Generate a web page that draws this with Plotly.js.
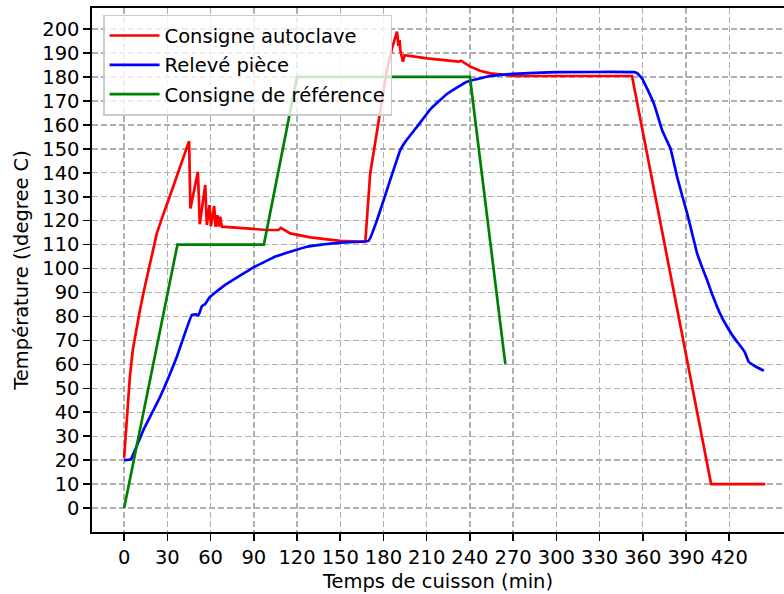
<!DOCTYPE html>
<html>
<head>
<meta charset="utf-8">
<script src="https://cdn.plot.ly/plotly-3.0.1.min.js"></script>
<style>html,body{margin:0;padding:0;background:#fff;}#chart{width:784px;height:594px;}</style>
</head>
<body>
<div id="chart"></div>
<script>
// Consigne autoclave
var autoclaveT = [0,1,2.3,4,6,8.5,11,14,16.9,19.8,22.7,26.8,30.8,45.1,46,51.2,52.5,56.3,57.4,59.3,60.2,62.5,63.4,64.8,65.6,66.7,67.8,80,99,107.2,108.8,115.3,129.2,150,167.4,170.8,173.1,177.3,182.4,186,189.4,190.4,191.2,191.7,193.5,194.7,210.2,232.2,233.8,240.3,247,254.2,262,270,300,352.5,407.4,445];
var autoclaveY = [21,30,41,55,66,75,82.7,91.5,99.4,107.5,114.7,122,128.6,153.2,125.1,140.4,118.5,134.9,118.2,126.5,117.7,126.1,117.5,122.3,117.5,121.6,117.5,117,116.1,116.1,117,114.7,113,111.6,111.2,139.7,148.1,164.8,182.9,192,198.9,193,195.4,191.2,186.4,189.1,187.8,186.4,186.8,184.3,182.6,181.5,181,180.5,180.4,180.4,10,10];
// Relevé pièce
var pieceT = [0,4.6,7.6,13.4,25,36.6,47,50,51.5,54,56.3,59.3,69,89.8,105.9,126.9,152.3,169.7,175.5,184.7,191.7,195.1,203.3,212.5,224.1,237.9,254.2,270,300,354,356,359.5,363.5,367.6,370.5,373.4,377,379.2,383.8,387.3,390.8,394.3,397.7,401.2,404.6,408,411.6,415,418.5,422,425.5,430.6,433.5,438,444];
var pieceY = [20,20.3,24.2,32.6,46.5,63.2,80.6,80.9,80.3,84.3,85.2,88,92.7,100.5,105.2,109.1,110.9,111.6,120.2,137,149.5,152.9,159.2,166.5,172.9,178,180.4,181.3,182,182,181.6,179.4,174.5,169,163.5,157.8,153,150.2,138.3,130.5,123,114.5,106.3,100.5,95.2,89.5,84,79.5,75.7,72.3,69.4,65.3,61.1,59.2,57.3];
// Consigne de référence
var refT = [0,37,97,120,240,264.6];
var refY = [0,110,110,180,180,60];

var xTicks = [0,30,60,90,120,150,180,210,240,270,300,330,360,390,420];
var yTicks = [0,10,20,30,40,50,60,70,80,90,100,110,120,130,140,150,160,170,180,190,200];

var lw = 2.7;
var traces = [
  {x: autoclaveT, y: autoclaveY, mode: 'lines', name: 'Consigne autoclave', legendgroup: 'a', line: {color: '#ff0000', width: lw}},
  {x: pieceT, y: pieceY, mode: 'lines', name: 'Relevé pièce', legendgroup: 'b', line: {color: '#0000ff', width: lw, shape: 'spline', smoothing: 0.3}},
  {x: refT, y: refY, mode: 'lines', name: 'Consigne de référence', legendgroup: 'c', line: {color: '#008000', width: lw}}
];

var font = {family: 'DejaVu Sans', size: 19.5, color: '#000'};
var gridStyle = {showgrid: true, gridcolor: '#b0b0b0', griddash: '6px,3px', gridwidth: 1.4};
var layout = {
  width: 784, height: 594,
  margin: {l: 92, r: 0, t: 8, b: 62},
  paper_bgcolor: '#fff', plot_bgcolor: '#fff',
  font: font,
  showlegend: true,
  legend: {x: 0.016, y: 0.987, xanchor: 'left', yanchor: 'top', bgcolor: 'rgba(255,255,255,0.8)', bordercolor: '#cccccc', borderwidth: 1.5, font: font, tracegroupgap: 1, itemwidth: 50},
  xaxis: Object.assign({
    range: [-22.3, 458], tickvals: xTicks, ticktext: xTicks.map(String),
    showline: true, linecolor: '#000', linewidth: 1.6, mirror: true,
    ticks: 'outside', ticklen: 7, tickwidth: 1.6, tickcolor: '#000',
    zeroline: false, tickfont: font,
    title: {text: 'Temps de cuisson (min)', font: font, standoff: 6}
  }, gridStyle),
  yaxis: Object.assign({
    range: [-10, 208.8], tickvals: yTicks, ticktext: yTicks.map(String),
    showline: true, linecolor: '#000', linewidth: 1.6, mirror: false,
    ticks: 'outside', ticklen: 7, tickwidth: 1.6, tickcolor: '#000',
    zeroline: false, tickfont: font,
    title: {text: 'Température (\\degree C)', font: font, standoff: 8}
  }, gridStyle)
};
Plotly.newPlot('chart', traces, layout, {displayModeBar: false, staticPlot: true});
</script>
</body>
</html>
